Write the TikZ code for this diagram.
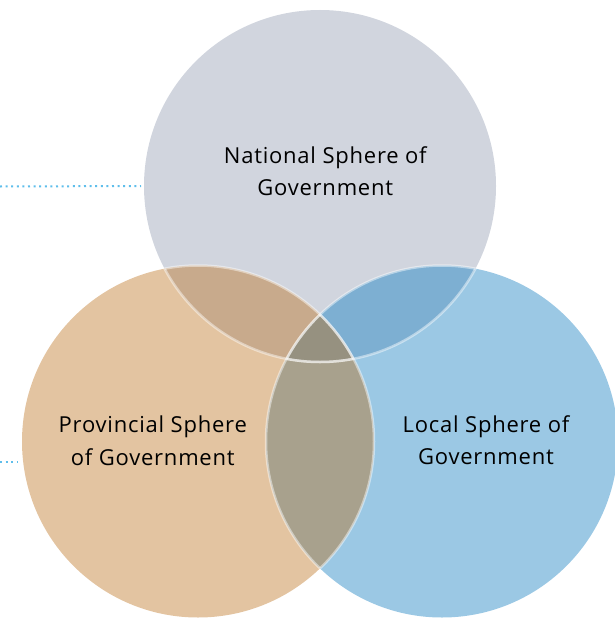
\documentclass[tikz,border=0pt]{standalone}
\usepackage{fontspec}
\setmainfont[LetterSpace=3.5]{Open Sans}
\definecolor{natc}{RGB}{209,213,222}
\definecolor{provc}{RGB}{227,196,161}
\definecolor{locc}{RGB}{155,200,228}
\definecolor{npc}{RGB}{200,170,140}
\definecolor{nlc}{RGB}{125,175,210}
\definecolor{plc}{RGB}{168,161,141}
\definecolor{nplc}{RGB}{150,145,128}
\definecolor{dotc}{RGB}{95,190,235}
\tikzset{
  sphere/.style={circle, minimum size=352pt, inner sep=0pt, outer sep=0pt},
  rim/.style={draw=white, draw opacity=0.45, line width=2.5pt},
  lbl/.style={align=center, font=\fontsize{22}{32.3}\selectfont, text=black, inner sep=0pt},
  leader/.style={draw=dotc, line width=2pt, dash pattern=on 2pt off 3.6pt}
}
\begin{document}
\begin{tikzpicture}[x=1pt,y=-1pt]
\useasboundingbox (0,0) rectangle (614,618);
\node[sphere, fill=natc] (nat) at (320,186) {};
\node[sphere, fill=provc] (prov) at (198,441.5) {};
\node[sphere, fill=locc] (loc) at (442,441.5) {};
\begin{scope}
  \clip (320,186) circle (176pt);
  \fill[npc] (198,441.5) circle (176pt);
  \fill[nlc] (442,441.5) circle (176pt);
\end{scope}
\begin{scope}
  \clip (198,441.5) circle (176pt);
  \fill[plc] (442,441.5) circle (176pt);
\end{scope}
\begin{scope}
  \clip (320,186) circle (176pt);
  \clip (198,441.5) circle (176pt);
  \fill[nplc] (442,441.5) circle (176pt);
\end{scope}
% rims, shown only where a circle edge crosses another circle
\begin{scope}
  \clip (198,441.5) circle (176pt);
  \draw[rim] (320,186) circle (176pt);
  \draw[rim] (442,441.5) circle (176pt);
\end{scope}
\begin{scope}
  \clip (442,441.5) circle (176pt);
  \draw[rim] (320,186) circle (176pt);
  \draw[rim] (198,441.5) circle (176pt);
\end{scope}
\begin{scope}
  \clip (320,186) circle (176pt);
  \draw[rim] (198,441.5) circle (176pt);
  \draw[rim] (442,441.5) circle (176pt);
\end{scope}
\node[lbl] (natlbl) at (325.3,171.1) {National Sphere of\\Government};
\node[lbl] (provlbl) at (152.8,440.8) {Provincial Sphere\\of Government};
\node[lbl] (loclbl) at (486,440.5) {Local Sphere of\\Government};
\coordinate (d1) at (0,186.5);
\coordinate (d2) at (0,462);
\coordinate (d2e) at (18,462);
\draw[leader] (d1) -- ([xshift=-3pt]nat.west);
\draw[leader] (d2) -- (d2e);
\end{tikzpicture}
\end{document}
